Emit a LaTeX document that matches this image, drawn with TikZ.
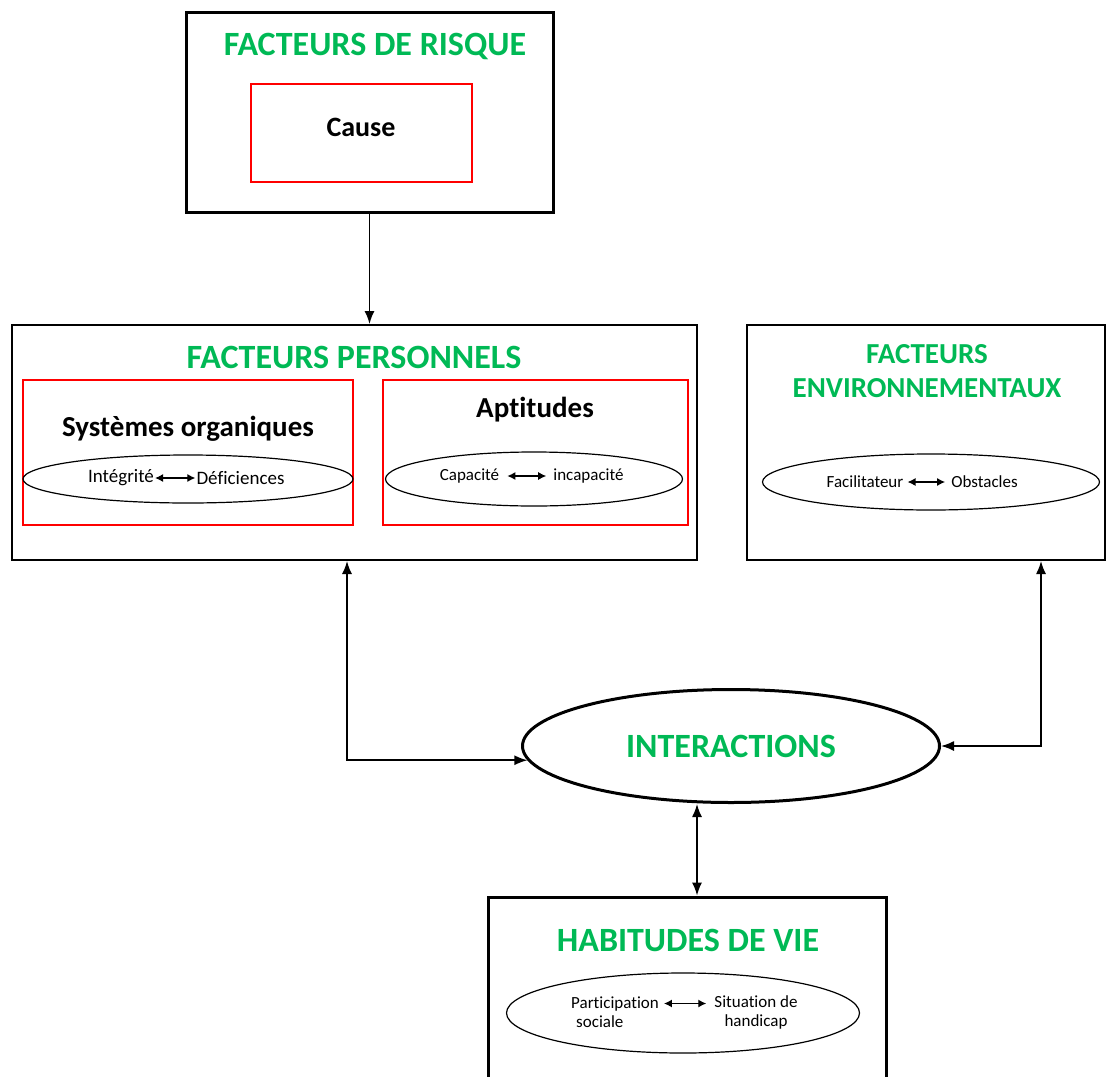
\documentclass[tikz,border=0pt]{standalone}
\usepackage{fontspec}
\setmainfont[Ligatures=NoCommon]{Carlito}
\usetikzlibrary{shapes.geometric,arrows.meta}
\definecolor{titlegreen}{RGB}{0,185,85}
\begin{document}
\begin{tikzpicture}[x=1pt,y=-1pt,
    bigbox/.style={draw, line width=3pt, inner sep=0pt},
    midbox/.style={draw, line width=2pt, inner sep=0pt},
    redbox/.style={draw=red, line width=1.2pt, inner sep=0pt},
    titletext/.style={font=\fontsize{34}{40}\selectfont\bfseries, text=titlegreen},
    subtext/.style={font=\fontsize{29}{34}\selectfont\bfseries},
    oval/.style={ellipse, draw, line width=1.2pt, inner sep=0pt},
    smalltext/.style={font=\fontsize{17}{19}\selectfont, inner sep=1pt},
    link/.style={line width=1.5pt, -{Latex[length=13pt,width=10pt]}},
    dbl/.style={line width=1.5pt, {Latex[length=13pt,width=10pt]}-{Latex[length=13pt,width=10pt]}},
    minilink/.style={line width=1.2pt, {Latex[length=8pt,width=8pt]}-{Latex[length=8pt,width=8pt]}}]
        \useasboundingbox (0,0) rectangle (1108,1076);
        \clip (0,0) rectangle (1108,1076);
        % risque
        \node (risk) at (369.5,112) [bigbox, minimum width=367pt, minimum height=200pt] {};
        \node (risktitle) at (375,46) [titletext] {FACTEURS DE RISQUE};
        \node (cause) at (361.5,133) [redbox, minimum width=221pt, minimum height=98pt] {};
        \node (causetext) at (361,127) [subtext, font=\fontsize{28}{34}\selectfont\bfseries] {Cause};
        % personnels
        \node (pers) at (354.5,442.5) [midbox, minimum width=685pt, minimum height=235pt] {};
        \node (perstitle) at (354,357) [titletext] {FACTEURS PERSONNELS};
        \node (sysbox) at (188,452.5) [redbox, minimum width=330pt, minimum height=145pt] {};
        \node (aptbox) at (535.5,452.5) [redbox, minimum width=305pt, minimum height=145pt] {};
        \node (systext) at (188,429) [subtext] {Systèmes organiques};
        \node (apttext) at (535,410) [subtext] {Aptitudes};
        \node (sysoval) at (188,479) [oval, minimum width=330pt, minimum height=48pt] {};
        \node (integ) at (121,478) [smalltext, font=\fontsize{19}{21}\selectfont] {Intégrité};
        \node (defic) at (240.5,478) [smalltext, font=\fontsize{19}{21}\selectfont] {Déficiences};
        \draw[minilink] (integ) -- (defic);
        \node (aptoval) at (534,479) [oval, minimum width=297pt, minimum height=54pt] {};
        \node (capa) at (469.5,476) [smalltext] {Capacité};
        \node (incapa) at (588.5,476) [smalltext] {incapacité};
        \draw[minilink, shorten <=7pt, shorten >=6pt] (capa) -- (incapa);
        % environnementaux
        \node (env) at (926,442.5) [midbox, minimum width=358pt, minimum height=235pt] {};
        \node (envtitle) at (927,371) [titletext, font=\fontsize{29}{34}\selectfont\bfseries, align=center] {FACTEURS\\ENVIRONNEMENTAUX};
        \node (envoval) at (931,482) [oval, minimum width=337pt, minimum height=56pt] {};
        \node (facil) at (865,482) [smalltext] {Facilitateur};
        \node (obst) at (984.5,482) [smalltext] {Obstacles};
        \draw[minilink, shorten <=3pt, shorten >=5pt] (facil) -- (obst);
        % interactions
        \node (inter) at (731,746) [ellipse, draw, line width=3pt, minimum width=417pt, minimum height=113pt, titletext] {INTERACTIONS};
        % habitudes
        \node (habits) at (687,1007) [bigbox, minimum width=398pt, minimum height=220pt] {};
        \node (habtitle) at (688,940) [titletext] {HABITUDES DE VIE};
        \node (haboval) at (683,1013) [oval, minimum width=353pt, minimum height=80pt] {};
        \node (partic) at (615,1012) [smalltext, align=left] {Participation\\\hspace*{5pt}sociale};
        \node (situ) at (756,1012) [smalltext, align=center] {Situation de\\handicap};
        \draw[minilink, shorten <=4pt, shorten >=7pt] ([yshift=8.5pt]partic.east) -- ([yshift=8.5pt]situ.west);
        % liens
        \draw[link] (risk.south) -- (risk.south |- pers.north);
        \draw[dbl] ([xshift=-7.5pt]pers.south) |- (inter.184);
        \draw[dbl] (inter.east) -| ([xshift=115pt]env.south);
        \draw[dbl] ([xshift=10pt]habits.north) -- ([xshift=10pt]habits.north |- inter.south);
\end{tikzpicture}
\end{document}
